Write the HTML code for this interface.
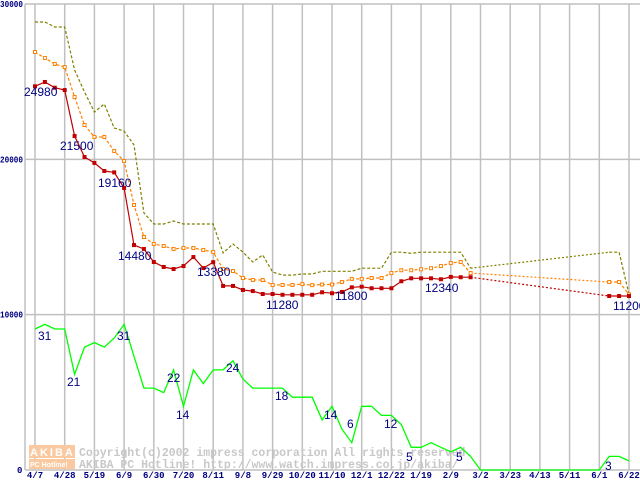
<!DOCTYPE html>
<html><head><meta charset="utf-8"><style>
html,body{margin:0;padding:0;background:#fff;}
svg{display:block;}
.ax{font-family:"Liberation Mono",monospace;font-size:9px;font-weight:bold;fill:#000080;}
.lb{font-family:"Liberation Sans",sans-serif;font-size:12px;fill:#000080;}
.wm{font-family:"Liberation Mono",monospace;font-size:11.5px;font-weight:bold;fill:#c8c8c8;}
</style></head><body>
<svg id="chart" width="640" height="480" viewBox="0 0 640 480" xmlns="http://www.w3.org/2000/svg"></svg>
<script>
const xLabels=["4/7","4/28","5/19","6/9","6/30","7/20","8/11","9/8","9/29","10/20","11/10","12/1","12/22","1/19","2/9","3/2","3/23","4/13","5/11","6/1","6/22"];
const yTicks=[0,10000,20000,30000];
const minPrice=[24700,24980,24610,24460,21500,20150,19770,19250,19160,18160,14480,14230,13390,13070,12940,13130,13710,13000,13380,11850,11850,11590,11520,11330,11330,11280,11280,11280,11280,11440,11380,11460,11760,11800,11700,11700,11700,12150,12340,12340,12340,12280,12430,12410,12410,null,null,null,null,null,null,null,null,null,null,null,null,null,11200,11200,11200];
const avgPrice=[26910,26520,26140,25940,24010,22210,21440,21440,20540,19890,17060,15000,14550,14420,14230,14290,14290,14160,14030,12940,12810,12360,12230,12230,11910,11910,11910,11970,11900,11940,11940,12100,12300,12300,12360,12360,12680,12860,12860,12920,12990,13130,13330,13390,12680,null,null,null,null,null,null,null,null,null,null,null,null,null,12100,12100,11310];
const maxPrice=[28840,28840,28520,28520,25750,24340,23050,23560,22020,21820,20920,16550,15840,15840,16030,15840,15840,15840,15840,13970,14550,14030,13390,13840,12750,12550,12550,12620,12620,12790,12790,12790,12790,12990,12990,12990,14020,14020,13950,14020,14020,14020,14020,14020,12990,null,null,null,null,null,null,null,null,null,null,null,null,null,14020,14020,11310];
const shopCount=[31,32,31,31,21,27,28,27,29,32,25,18,18,17,22,14,22,19,22,22,24,20,18,18,18,18,16,16,16,11,14,9,6,14,14,12,12,10,5,5,6,5,4,5,3,0,0,0,0,0,0,0,0,0,0,0,0,0,3,3,2];
const priceLabels=[[1,"24980",24,96],[4,"21500",60,150],[8,"19160",98,187],[10,"14480",118,260],[18,"13380",197,276],[25,"11280",266,309],[33,"11800",335,300],[38,"12340",425,292],[60,"11200",613,310]];
const countLabels=[[0,"31",38,340],[4,"21",67,386],[9,"31",117,340],[14,"22",167,382],[15,"14",176,419],[20,"24",226,372],[25,"18",275,400],[30,"14",324,419],[32,"6",347,428],[35,"12",384,428],[38,"5",406,461],[43,"5",456,461],[58,"3",605,470]];

const NS="http://www.w3.org/2000/svg";
const svg=document.getElementById('chart');
const X0=35,DX=9.9,Y0=470,YTOP=4,YMAX=30000,CPX=4.55;
const xs=i=>X0+i*DX;
const ys=v=>Y0-(v/YMAX)*(Y0-YTOP);
const yc=c=>Y0-c*CPX;
function mk(tag,attrs,parent){const e=document.createElementNS(NS,tag);for(const k in attrs)e.setAttribute(k,attrs[k]);(parent||svg).appendChild(e);return e;}

const grid=mk('g',{});


yTicks.forEach(v=>{mk('line',{x1:25,x2:640,y1:ys(v),y2:ys(v),stroke:'#c0c0c0','stroke-width':1.5},grid);});
xLabels.forEach((l,k)=>{mk('line',{x1:xs(k*3),x2:xs(k*3),y1:YTOP,y2:Y0,stroke:'#c0c0c0','stroke-width':1.5},grid);});
mk('line',{x1:25,x2:25,y1:YTOP,y2:Y0,stroke:'#c0c0c0','stroke-width':1.5},grid);

const wm=mk('g',{});


mk('rect',{x:29,y:445,width:46,height:13,fill:'#fbc9a0'},wm);
mk('rect',{x:29,y:459,width:46,height:10,fill:'#fbc9a0'},wm);
const t1=mk('text',{x:30,y:456,'font-family':'Liberation Sans,sans-serif','font-size':11,'font-weight':'bold',fill:'#fff','letter-spacing':'2'},wm);t1.textContent='AKIBA';
const t2=mk('text',{x:30,y:467,'font-family':'Liberation Sans,sans-serif','font-size':7,'font-weight':'bold',fill:'#fff'},wm);t2.textContent='PC Hotline!';
const t3=mk('text',{x:79,y:456,class:'wm'},wm);t3.textContent='Copyright(c)2002 impress corporation All rights reserved.';
const t4=mk('text',{x:79,y:468,class:'wm'},wm);t4.textContent='AKIBA PC Hotline!  http://www.watch.impress.co.jp/akiba/';

yTicks.forEach(v=>{const s=String(v);const a={x:s.length>1?0:17,y:ys(v)+3,class:'ax'};if(s.length>1){a.textLength=23;a.lengthAdjust='spacingAndGlyphs';}
const t=mk('text',a);t.textContent=s;

});
xLabels.forEach((l,k)=>{const t=mk('text',{x:xs(k*3),y:478,class:'ax','text-anchor':'middle'});t.textContent=l;

});

function segs(arr){const s=[];let cur=[];arr.forEach((v,i)=>{if(v==null){if(cur.length)s.push(cur);cur=[];}else cur.push([xs(i),ys(v)]);});if(cur.length)s.push(cur);return s;}
function pts(p){return p.map(q=>q[0].toFixed(1)+','+q[1].toFixed(1)).join(' ');}
function drawSeries(arr,name,color,dash,marker){
  const g=mk('g',{});
  
  
  const s=segs(arr);
  s.forEach(p=>{const a={points:pts(p),fill:'none',stroke:color,'stroke-width':1.2};if(dash)a['stroke-dasharray']=dash;mk('polyline',a,g);});
  for(let k=0;k<s.length-1;k++){const a=s[k][s[k].length-1],b=s[k+1][0];mk('line',{x1:a[0],y1:a[1],x2:b[0],y2:b[1],stroke:color,'stroke-width':1.2,'stroke-dasharray':'2,2'},g);}
  if(marker){arr.forEach((v,i)=>{if(v==null)return;const r=mk('rect',{x:xs(i)-1.5,y:ys(v)-1.5,width:3,height:3,fill:marker==='fill'?color:'#fff',stroke:color,'stroke-width':1},g);
  
  });}
}
drawSeries(maxPrice,'max-price-line','#808000','3,2',null);
drawSeries(avgPrice,'avg-price-line','#ff8000','3,2','open');
drawSeries(minPrice,'min-price-line','#c00000',null,'fill');

const cg=mk('g',{});


mk('polyline',{points:shopCount.map((c,i)=>xs(i).toFixed(1)+','+yc(c).toFixed(1)).join(' '),fill:'none',stroke:'#00ff00','stroke-width':1.3},cg);

priceLabels.forEach(l=>{const t=mk('text',{x:l[2],y:l[3],class:'lb'});t.textContent=l[1];

});
countLabels.forEach(l=>{const t=mk('text',{x:l[2],y:l[3],class:'lb'});t.textContent=l[1];

});
</script>
</body></html>
